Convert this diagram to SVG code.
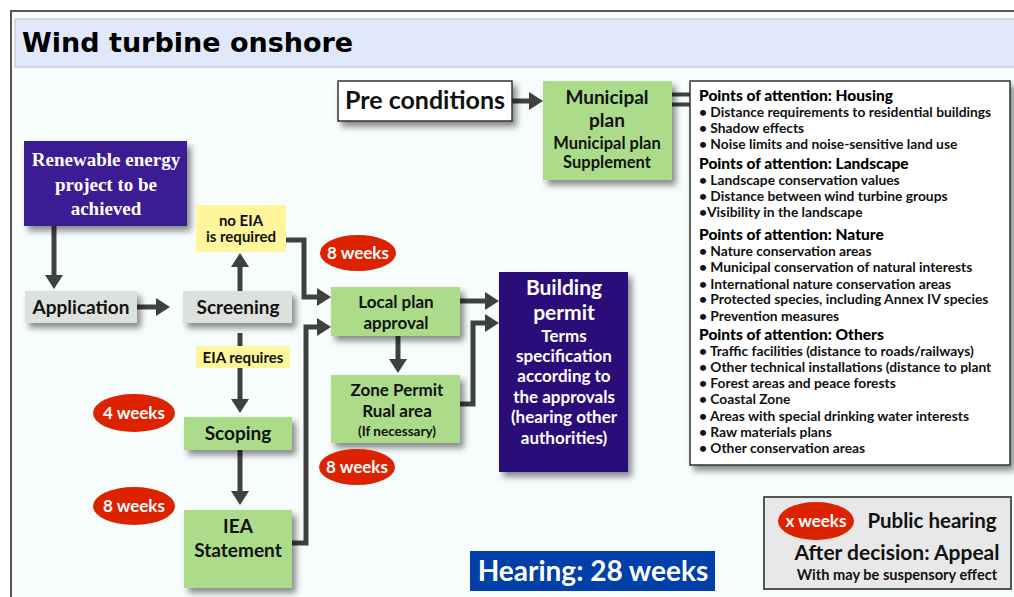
<svg xmlns="http://www.w3.org/2000/svg" width="1014" height="597" viewBox="0 0 1014 597">
<defs>
<filter id="sh" x="-20%" y="-20%" width="150%" height="160%">
<feDropShadow dx="4" dy="5" stdDeviation="3" flood-color="#000" flood-opacity="0.45"/>
</filter>
<marker id="ah" markerUnits="userSpaceOnUse" markerWidth="14" markerHeight="18" refX="2" refY="9" orient="auto">
<path d="M0,0 L14,9 L0,18 z" fill="#404040"/>
</marker>
<style>
.t{font-family:Lato,"Liberation Sans",sans-serif;font-weight:700;fill:#111;text-anchor:middle}
.w{font-family:Lato,"Liberation Sans",sans-serif;font-weight:700;fill:#fff;text-anchor:middle}
.p{font-family:Lato,"Liberation Sans",sans-serif;font-weight:700;fill:#111;font-size:13.8px}
.h{font-family:Lato,"Liberation Sans",sans-serif;font-weight:900;fill:#000;font-size:15.5px}
.s{font-family:"Liberation Serif",serif;font-weight:700;fill:#fff;text-anchor:middle;font-size:19px}
.c{fill:none;stroke:#404040;stroke-width:5}
.g{fill:#acdc8a}
.red{fill:#dd2200}
</style>
</defs>
<rect x="0" y="0" width="1014" height="597" fill="#fff"/>
<rect x="11" y="11" width="1010" height="600" fill="#f7fcfd" stroke="#555" stroke-width="2"/>
<g id="title">
<rect x="15" y="19" width="1005" height="48" fill="#e0e9f9" stroke="#b8bcc8" stroke-width="1"/>
<text x="22" y="52" font-family="'DejaVu Sans',sans-serif" font-weight="700" font-size="27" fill="#000">Wind turbine onshore</text>
</g>
<g id="connectors">
<path class="c" d="M512,101 H531" marker-end="url(#ah)"/>
<path d="M672,94.5 H690 M672,104.5 H690" fill="none" stroke="#404040" stroke-width="4"/>
<path class="c" d="M54,226 V277" marker-end="url(#ah)"/>
<path class="c" d="M137,307 H158" marker-end="url(#ah)"/>
<path class="c" d="M240,291 V265" marker-end="url(#ah)"/>
<path class="c" d="M286,240 H304 V297 H319" marker-end="url(#ah)"/>
<path class="c" d="M240,333 V401" marker-end="url(#ah)"/>
<path class="c" d="M240,450 V493" marker-end="url(#ah)"/>
<path class="c" d="M292,543 H306 V327 H319" marker-end="url(#ah)"/>
<path class="c" d="M460,301 H487" marker-end="url(#ah)"/>
<path class="c" d="M398,336 V361" marker-end="url(#ah)"/>
<path class="c" d="M460,404 H473 V323 H487" marker-end="url(#ah)"/>
</g>
<g id="pre">
<rect x="338" y="81" width="174" height="40" fill="#fff" stroke="#333" stroke-width="1.5" filter="url(#sh)"/>
<text class="t" x="425" y="109" font-size="25">Pre conditions</text>
</g>
<g id="municipal">
<rect class="g" x="543" y="81" width="129" height="99" filter="url(#sh)"/>
<text class="t" x="607" y="104" font-size="19">Municipal</text>
<text class="t" x="607" y="127" font-size="19">plan</text>
<text class="t" x="607" y="149" font-size="16.5">Municipal plan</text>
<text class="t" x="607" y="168" font-size="16.5">Supplement</text>
</g>
<g id="points">
<rect x="690" y="81" width="320" height="384" fill="#fff" stroke="#333" stroke-width="1.5" filter="url(#sh)"/>
<text class="h" x="699" y="101">Points of attention: Housing</text>
<text class="p" x="699" y="117">• Distance requirements to residential buildings</text>
<text class="p" x="699" y="133">• Shadow effects</text>
<text class="p" x="699" y="149">• Noise limits and noise-sensitive land use</text>
<text class="h" x="699" y="169">Points of attention: Landscape</text>
<text class="p" x="699" y="185">• Landscape conservation values</text>
<text class="p" x="699" y="201">• Distance between wind turbine groups</text>
<text class="p" x="699" y="217">•Visibility in the landscape</text>
<text class="h" x="699" y="240">Points of attention: Nature</text>
<text class="p" x="699" y="256">• Nature conservation areas</text>
<text class="p" x="699" y="272">• Municipal conservation of natural interests</text>
<text class="p" x="699" y="289">• International nature conservation areas</text>
<text class="p" x="699" y="304">• Protected species, including Annex IV species</text>
<text class="p" x="699" y="321">• Prevention measures</text>
<text class="h" x="699" y="340">Points of attention: Others</text>
<text class="p" x="699" y="356">• Traffic facilities (distance to roads/railways)</text>
<text class="p" x="699" y="372">• Other technical installations (distance to plant</text>
<text class="p" x="699" y="388">• Forest areas and peace forests</text>
<text class="p" x="699" y="404">• Coastal Zone</text>
<text class="p" x="699" y="421">• Areas with special drinking water interests</text>
<text class="p" x="699" y="437">• Raw materials plans</text>
<text class="p" x="699" y="453">• Other conservation areas</text>
</g>
<g id="renewable">
<rect x="24" y="141" width="163" height="85" fill="#3a1a92" filter="url(#sh)"/>
<text class="s" x="106" y="166">Renewable energy</text>
<text class="s" x="106" y="191">project to be</text>
<text class="s" x="106" y="215">achieved</text>
</g>
<g id="application">
<rect x="25" y="291" width="112" height="32" fill="#dde1dd" filter="url(#sh)"/>
<text class="t" x="81" y="314" font-size="19">Application</text>
</g>
<g id="screening">
<rect x="183" y="291" width="109" height="32" fill="#dde1dd" filter="url(#sh)"/>
<text class="t" x="238" y="314" font-size="19">Screening</text>
</g>
<g id="noeia">
<rect x="196" y="205" width="90" height="47" fill="#fff59a"/>
<text class="t" x="241" y="226" font-size="15">no EIA</text>
<text class="t" x="241" y="242" font-size="15">is required</text>
</g>
<g id="eiareq">
<rect x="196" y="346" width="94" height="22" fill="#fff59a"/>
<text class="t" x="243" y="363" font-size="15">EIA requires</text>
</g>
<g id="scoping">
<rect class="g" x="184" y="417" width="108" height="33" filter="url(#sh)"/>
<text class="t" x="238" y="440" font-size="19">Scoping</text>
</g>
<g id="iea">
<rect class="g" x="184" y="510" width="108" height="78" filter="url(#sh)"/>
<text class="t" x="238" y="533" font-size="19">IEA</text>
<text class="t" x="238" y="557" font-size="19">Statement</text>
</g>
<g id="localplan">
<rect class="g" x="331" y="287" width="129" height="49" filter="url(#sh)"/>
<text class="t" x="396" y="308" font-size="17">Local plan</text>
<text class="t" x="396" y="329" font-size="17">approval</text>
</g>
<g id="zone">
<rect class="g" x="331" y="375" width="129" height="68" filter="url(#sh)"/>
<text class="t" x="397" y="396" font-size="17">Zone Permit</text>
<text class="t" x="397" y="417" font-size="17">Rual area</text>
<text class="t" x="397" y="436" font-size="13.5">(If necessary)</text>
</g>
<g id="building">
<rect x="499" y="272" width="129" height="200" fill="#2a0a78" filter="url(#sh)"/>
<text class="w" x="564" y="295" font-size="21">Building</text>
<text class="w" x="564" y="320" font-size="21">permit</text>
<text class="w" x="564" y="342" font-size="17">Terms</text>
<text class="w" x="564" y="362" font-size="17">specification</text>
<text class="w" x="564" y="382" font-size="17">according to</text>
<text class="w" x="564" y="403" font-size="17">the approvals</text>
<text class="w" x="564" y="423" font-size="17">(hearing other</text>
<text class="w" x="564" y="444" font-size="17">authorities)</text>
</g>
<g id="w1">
<ellipse class="red" cx="358" cy="253" rx="38" ry="18"/>
<text class="w" x="358" y="259" font-size="17">8 weeks</text>
</g>
<g id="w2">
<ellipse class="red" cx="134" cy="413" rx="41" ry="19"/>
<text class="w" x="134" y="419" font-size="17">4 weeks</text>
</g>
<g id="w3">
<ellipse class="red" cx="134" cy="506" rx="41" ry="19"/>
<text class="w" x="134" y="512" font-size="17">8 weeks</text>
</g>
<g id="w4">
<ellipse class="red" cx="357" cy="467" rx="38" ry="18"/>
<text class="w" x="357" y="473" font-size="17">8 weeks</text>
</g>
<g id="hearing">
<rect x="470" y="551" width="245" height="40" fill="#0040a8"/>
<text class="w" x="593" y="581" font-size="28">Hearing: 28 weeks</text>
</g>
<g id="legend">
<rect x="764" y="497" width="247" height="92" fill="#e8e8e8" stroke="#555" stroke-width="2"/>
<ellipse class="red" cx="816" cy="521" rx="38" ry="19"/>
<text class="w" x="816" y="527" font-size="17">x weeks</text>
<text class="t" x="932" y="528" font-size="20.5">Public hearing</text>
<text class="t" x="897" y="560" font-size="21">After decision: Appeal</text>
<text class="t" x="897" y="580" font-size="14.6">With may be suspensory effect</text>
</g>
</svg>
